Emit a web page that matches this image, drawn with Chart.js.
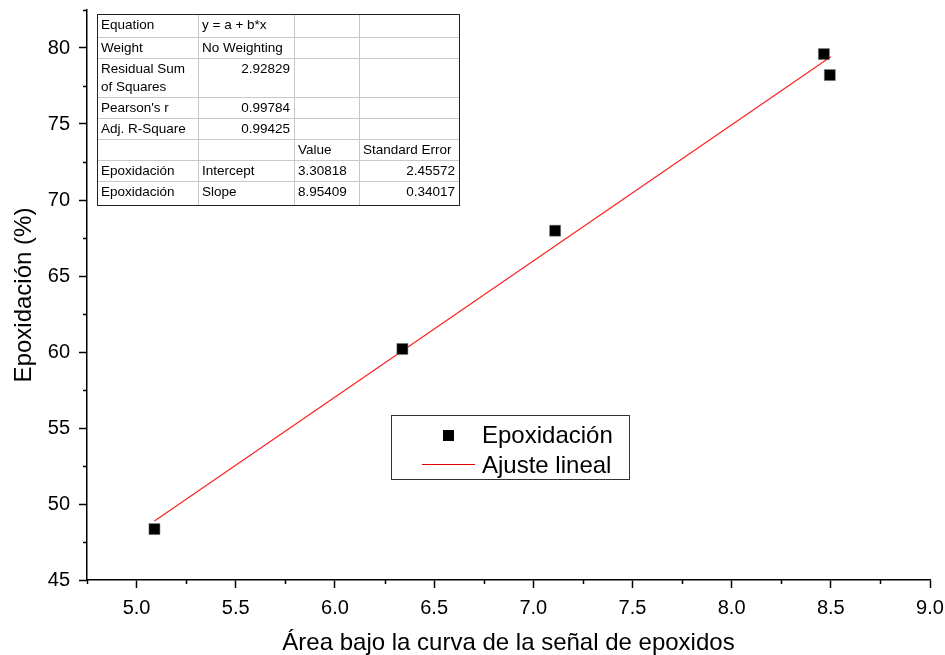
<!DOCTYPE html>
<html><head><meta charset="utf-8">
<script src="https://cdn.jsdelivr.net/npm/chart.js@4"></script>
<style>html,body{margin:0;padding:0;background:#fff}#w{width:945px;height:655px}</style>
</head><body><div id="w"><canvas id="c" width="945" height="655"></canvas></div>
<script>
const areaX = [5.09, 6.34, 7.11, 8.465, 8.495];
const epoxY = [48.35, 60.2, 67.98, 79.6, 78.22];
const fitX = [5.09, 8.50];
const fitY = [48.88, 79.42];
const xTicks = [5.0, 5.5, 6.0, 6.5, 7.0, 7.5, 8.0, 8.5, 9.0];
const yTicks = [45, 50, 55, 60, 65, 70, 75, 80];
const tableRows = [
  ["Equation", "y = a + b*x", "", ""],
  ["Weight", "No Weighting", "", ""],
  ["Residual Sum\nof Squares", "2.92829", "", ""],
  ["Pearson's r", "0.99784", "", ""],
  ["Adj. R-Square", "0.99425", "", ""],
  ["", "", "Value", "Standard Error"],
  ["Epoxidación", "Intercept", "3.30818", "2.45572"],
  ["Epoxidación", "Slope", "8.95409", "0.34017"]
];
const legendLabels = ["Epoxidación", "Ajuste lineal"];

const FONT = "'Liberation Sans', Arial, sans-serif";

const extras = {
  id: 'extras',
  afterDraw(chart) {
    const ctx = chart.ctx;
    const xs = chart.scales.x, ys = chart.scales.y;
    ctx.save();
    // minor ticks
    ctx.strokeStyle = '#000'; ctx.lineWidth = 1.5;
    for (let v = 4.75; v <= 9.0001; v += 0.5) {
      const px = Math.round(xs.getPixelForValue(v)) + 0.5;
      ctx.beginPath(); ctx.moveTo(px, xs.top); ctx.lineTo(px, xs.top + 4); ctx.stroke();
    }
    for (let v = 47.5; v <= 82.5; v += 5) {
      const py = Math.round(ys.getPixelForValue(v)) + 0.5;
      ctx.beginPath(); ctx.moveTo(ys.right, py); ctx.lineTo(ys.right - 4, py); ctx.stroke();
    }
    // table
    const colX = [97, 198, 294, 359, 459];
    const rowY = [14, 37, 58, 97, 118, 139, 160, 181, 205];
    ctx.strokeStyle = '#c8c8c8'; ctx.lineWidth = 1;
    for (let i = 1; i < colX.length - 1; i++) {
      ctx.beginPath(); ctx.moveTo(colX[i] + 0.5, rowY[0]); ctx.lineTo(colX[i] + 0.5, rowY[8]); ctx.stroke();
    }
    for (let j = 1; j < rowY.length - 1; j++) {
      ctx.beginPath(); ctx.moveTo(colX[0], rowY[j] + 0.5); ctx.lineTo(colX[4], rowY[j] + 0.5); ctx.stroke();
    }
    ctx.strokeStyle = '#222';
    ctx.strokeRect(colX[0] + 0.5, rowY[0] + 0.5, colX[4] - colX[0], rowY[8] - rowY[0]);
    ctx.fillStyle = '#000'; ctx.font = '13.5px ' + FONT; ctx.textBaseline = 'middle';
    tableRows.forEach((row, j) => {
      row.forEach((txt, i) => {
        if (!txt) return;
        const lines = txt.split('\n');
        const rightAlign = (i === 1 && j >= 2 && j <= 4) || (i === 3 && j >= 6);
        lines.forEach((ln, k) => {
          const ty = rowY[j] + 11 + k * 18;
          if (rightAlign) { ctx.textAlign = 'right'; ctx.fillText(ln, colX[i + 1] - 4, ty); }
          else { ctx.textAlign = 'left'; ctx.fillText(ln, colX[i] + 4, ty); }
        });
      });
    });
    // legend
    ctx.strokeStyle = '#333'; ctx.lineWidth = 1;
    ctx.strokeRect(391.5, 415.5, 238, 64);
    ctx.fillStyle = '#000';
    ctx.fillRect(443, 430, 11, 11);
    ctx.strokeStyle = '#e00000'; ctx.lineWidth = 1;
    ctx.beginPath(); ctx.moveTo(422, 464.5); ctx.lineTo(475, 464.5); ctx.stroke();
    ctx.fillStyle = '#000'; ctx.font = '24px ' + FONT; ctx.textAlign = 'left'; ctx.textBaseline = 'middle';
    ctx.fillText(legendLabels[0], 482, 436);
    ctx.fillText(legendLabels[1], 482, 466);
    ctx.restore();
  }
};

new Chart(document.getElementById('c'), {
  type: 'scatter',
  data: {
    datasets: [
      { label: legendLabels[0], data: areaX.map((x, i) => ({ x, y: epoxY[i] })),
        pointStyle: 'rect', pointRadius: 7.8, backgroundColor: '#000', borderColor: '#777', borderWidth: 0.5, order: 1 },
      { label: legendLabels[1], type: 'line', data: fitX.map((x, i) => ({ x, y: fitY[i] })),
        borderColor: '#ff2020', borderWidth: 1.2, pointRadius: 0, fill: false, order: 2 }
    ]
  },
  plugins: [extras],
  options: {
    responsive: false, animation: false,
    layout: { padding: { top: 10, right: 15, left: 0, bottom: 0 } },
    plugins: { legend: { display: false }, tooltip: { enabled: false } },
    scales: {
      x: {
        type: 'linear', min: 4.75, max: 9.0,
        afterBuildTicks: s => { s.ticks = xTicks.map(v => ({ value: v })); },
        ticks: { includeBounds: false, color: '#000', font: { family: FONT, size: 20 }, padding: 8,
                 callback: v => v.toFixed(1), maxRotation: 0 },
        grid: { drawOnChartArea: false, drawTicks: true, tickLength: 8, tickColor: '#000', tickWidth: 1.5 },
        border: { display: true, color: '#000', width: 1.5 },
        title: { display: true, text: 'Área bajo la curva de la señal de epoxidos', color: '#000',
                 font: { family: FONT, size: 24 }, padding: { top: 4, bottom: -3 } },
        afterFit: s => { s.height = 75; s.paddingLeft = 0; s.paddingRight = 0; }
      },
      y: {
        type: 'linear', min: 45, max: 82.5,
        afterBuildTicks: s => { s.ticks = yTicks.map(v => ({ value: v })); },
        ticks: { includeBounds: false, color: '#000', font: { family: FONT, size: 20 }, padding: 9 },
        grid: { drawOnChartArea: false, drawTicks: true, tickLength: 8, tickColor: '#000', tickWidth: 1.5 },
        border: { display: true, color: '#000', width: 1.5 },
        title: { display: true, text: 'Epoxidación (%)', color: '#000',
                 font: { family: FONT, size: 24 }, padding: { top: 10, bottom: 4 } },
        afterFit: s => { s.width = 87; s.paddingTop = 0; s.paddingBottom = 0; }
      }
    }
  }
});
</script></body></html>
